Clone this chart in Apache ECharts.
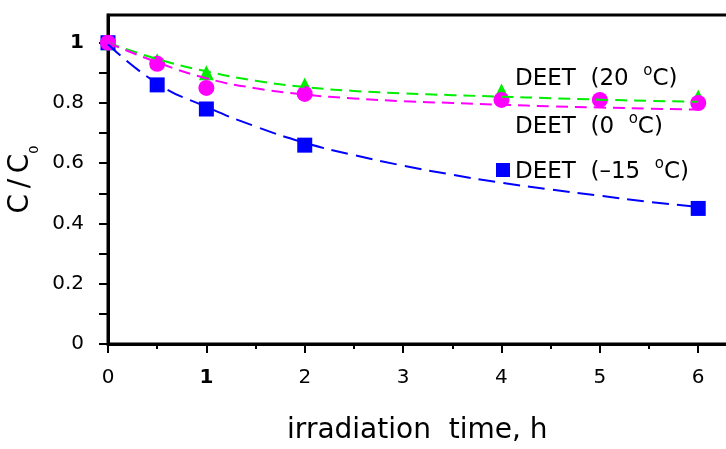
<!DOCTYPE html>
<html>
<head>
<meta charset="utf-8">
<script src="https://cdn.jsdelivr.net/npm/echarts@6/dist/echarts.min.js"></script>
<style>
html, body { margin: 0; padding: 0; background: #fff; }
#chart { width: 726px; height: 449px; }
</style>
</head>
<body>
<div id="chart"></div>
<script>
// measured points
const time20 = [0, 0.5, 1, 2, 4, 6];
const deet20 = [1.0, 0.94, 0.90, 0.86, 0.84, 0.82];
const time0 = [0, 0.5, 1, 2, 4, 5, 6];
const deet0 = [1.0, 0.93, 0.85, 0.83, 0.81, 0.81, 0.80];
const timeM15 = [0, 0.5, 1, 2, 6];
const deetM15 = [1.0, 0.86, 0.78, 0.66, 0.45];

// fitted curves
const fitTime = [0, 0.5, 1, 1.5, 2, 2.5, 3, 3.5, 4, 4.5, 5, 5.5, 6];
const fit20 = [1.0, 0.946, 0.905, 0.874, 0.853, 0.84, 0.832, 0.826, 0.821, 0.816, 0.811, 0.807, 0.804];
const fit0 = [1.0, 0.935, 0.882, 0.849, 0.828, 0.815, 0.806, 0.80, 0.794, 0.789, 0.785, 0.781, 0.778];
const fitM15 = [0.995, 0.865, 0.787, 0.722, 0.668, 0.627, 0.592, 0.562, 0.535, 0.513, 0.492, 0.472, 0.455];

const names = ['DEET (20 °C)', 'DEET (0 °C)', 'DEET (–15 °C)'];
const yTickValues = [0, 0.1, 0.2, 0.3, 0.4, 0.5, 0.6, 0.7, 0.8, 0.9, 1.0];
const yLabelValues = [0, 0.2, 0.4, 0.6, 0.8, 1.0];

const FONT = 'DejaVu Sans';
const pairs = (xs, ys) => xs.map((x, i) => [x, ys[i]]);

function legendText(name) {
	const m = name.match(/^(\S+) \((.+) °C\)$/);
	return '{a|' + m[1] + '  (' + m[2] + '  }{s|o}{a|C)}';
}

function legendAt(name, top, icon) {
	return {
		data: [{ name: name, icon: icon }],
		left: 496, top: top, padding: 0,
		itemWidth: 14, itemHeight: 14,
		selectedMode: false,
		formatter: legendText,
		textStyle: {
			color: '#000',
			rich: {
				a: { fontFamily: FONT, fontSize: 23, lineHeight: 27, verticalAlign: 'bottom', color: '#000' },
				s: { fontFamily: FONT, fontSize: 15, lineHeight: 27, verticalAlign: 'top', color: '#000' }
			}
		}
	};
}

const boldRich = { b: { fontFamily: FONT, fontSize: 20, fontWeight: 'bold', color: '#000' } };

function fitLine(ys, color, dash) {
	return {
		type: 'line', data: pairs(fitTime, ys), smooth: true, showSymbol: false,
		lineStyle: { color: color, width: 2, type: dash }, silent: true
	};
}

const option = {
	animation: false,
	backgroundColor: '#fff',
	grid: {
		left: 108, top: 15, width: 688.6, height: 329,
		outerBoundsMode: 'none',
		show: true, borderColor: '#000', borderWidth: 3, backgroundColor: 'transparent'
	},
	legend: [
		legendAt(names[0], 64, 'none'),
		legendAt(names[1], 112, 'none'),
		legendAt(names[2], 156.5, 'rect')
	],
	xAxis: {
		type: 'value', min: 0, max: 7, interval: 1,
		name: 'irradiation  time, h', nameLocation: 'middle', nameGap: 73,
		nameTextStyle: { fontFamily: FONT, fontSize: 28, color: '#000', padding: [0, 70, 0, 0] },
		axisLine: { lineStyle: { color: '#000', width: 3 } },
		axisTick: { length: 9, lineStyle: { color: '#000', width: 2 } },
		minorTick: { show: true, splitNumber: 2, length: 5, lineStyle: { color: '#000', width: 2 } },
		splitLine: { show: false },
		axisLabel: {
			fontFamily: FONT, fontSize: 20, color: '#000', margin: 24, rich: boldRich,
			formatter: v => v === 1 ? '{b|1}' : String(v)
		}
	},
	yAxis: {
		type: 'value', min: 0, max: 1.092,
		name: '{m|C\u2009/\u2009C}{s|0}', nameLocation: 'middle', nameRotate: 90, nameGap: 61,
		nameTextStyle: {
			rich: {
				m: { fontFamily: FONT, fontSize: 28, lineHeight: 35, verticalAlign: 'top', color: '#000' },
				s: { fontFamily: FONT, fontSize: 13, lineHeight: 35, verticalAlign: 'bottom', color: '#000' }
			}
		},
		axisLine: { lineStyle: { color: '#000', width: 3 } },
		axisTick: { length: 9, customValues: yTickValues, lineStyle: { color: '#000', width: 2 } },
		splitLine: { show: false },
		axisLabel: {
			fontFamily: FONT, fontSize: 20, color: '#000', margin: 24, rich: boldRich,
			customValues: yLabelValues,
			formatter: v => v === 1 ? '{b|1}' : (v === 0 ? '0' : v.toFixed(1))
		}
	},
	series: [
		fitLine(fit20, '#00ee00', [12, 7]),
		fitLine(fitM15, '#0000ff', [17, 8]),
		fitLine(fit0, '#ff00ff', [12, 7]),
		{
			name: names[0], type: 'scatter', data: pairs(time20, deet20),
			symbol: 'triangle', symbolSize: 15, itemStyle: { color: '#00ee00', opacity: 1 }
		},
		{
			name: names[2], type: 'scatter', data: pairs(timeM15, deetM15),
			symbol: 'rect', symbolSize: 15, itemStyle: { color: '#0000ff', opacity: 1 }
		},
		{
			name: names[1], type: 'scatter', data: pairs(time0, deet0),
			symbol: 'circle', symbolSize: 16, itemStyle: { color: '#ff00ff', opacity: 1 }
		}
	]
};

const chart = echarts.init(document.getElementById('chart'));
chart.setOption(option);
</script>
</body>
</html>
